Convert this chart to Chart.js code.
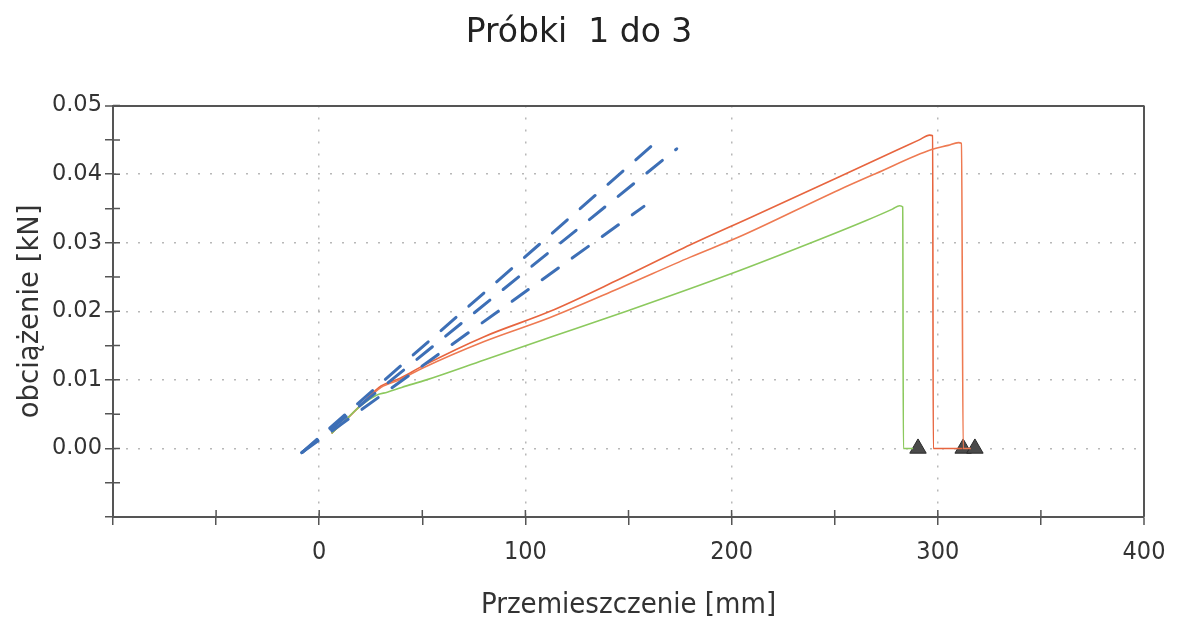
<!DOCTYPE html>
<html>
<head>
<meta charset="utf-8">
<script src="https://cdn.jsdelivr.net/npm/chart.js@4"></script>
<style>
  html, body { margin: 0; padding: 0; background: #fff; }
  #wrap { width: 1179px; height: 620px; }
</style>
</head>
<body>
<div id="wrap"><canvas id="chart" width="1179" height="620"></canvas></div>
<script>
'use strict';

// Displacement [mm] / load [kN]
var disp1 = [6, 12, 20, 30, 39, 50, 80, 112, 145, 180, 210, 252, 280, 291, 296, 297.5, 297.8, 312];
var load1 = [0.0022, 0.0039, 0.0063, 0.0091, 0.0102, 0.0120, 0.0163, 0.0200, 0.0246, 0.0297, 0.0338, 0.0396, 0.0435, 0.0450, 0.0457, 0.0456, 0, 0];

var disp2 = [6, 12, 20, 30, 39, 50, 80, 112, 145, 180, 204, 252, 270, 297, 305, 310, 311.5, 312.3, 316];
var load2 = [0.0022, 0.0039, 0.0062, 0.0089, 0.0100, 0.0117, 0.0156, 0.0191, 0.0233, 0.0279, 0.0309, 0.0377, 0.0401, 0.0436, 0.0442, 0.0446, 0.0445, 0, 0];

var disp3 = [6, 12, 20, 28, 33, 40, 52, 80, 112, 149, 200, 239.5, 265, 278, 281.5, 283, 283.3, 288];
var load3 = [0.0022, 0.0039, 0.0062, 0.0078, 0.0082, 0.0089, 0.0100, 0.0129, 0.0162, 0.0200, 0.0255, 0.0301, 0.0332, 0.0349, 0.0354, 0.0352, 0, 0];

// fitted (modulus) lines, dashed blue
var fitDispA = [-8.4, 166.1], fitLoadA = [-0.0006, 0.0454];
var fitDispB = [-8.4, 173.4], fitLoadB = [-0.0006, 0.0437];
var fitDispC = [-8.4, 157.5], fitLoadC = [-0.0006, 0.0353];

// break markers
var breakDisp = [290.4, 312.3, 318];
var breakLoad = [0, 0, 0];

var titleText = 'Próbki  1 do 3';
var xTitle = 'Przemieszczenie [mm]';
var yTitle = 'obciążenie [kN]';

function pts(xs, ys) {
  return xs.map(function(x, i) { return { x: x, y: ys[i] }; });
}

var narrow = '"DejaVu Sans Condensed", "Liberation Sans Narrow", "DejaVu Sans", sans-serif';
var wide = '"DejaVu Sans", Verdana, sans-serif';

// short tick marks pointing into the plot
var innerTicks = {
  id: 'innerTicks',
  afterDraw: function(chart) {
    var ctx = chart.ctx, a = chart.chartArea;
    var xs = chart.scales.x, ys = chart.scales.y;
    ctx.save();
    ctx.strokeStyle = '#555';
    ctx.lineWidth = 1.5;
    ctx.beginPath();
    xs.ticks.forEach(function(t) {
      var px = xs.getPixelForValue(t.value);
      ctx.moveTo(px, a.bottom);
      ctx.lineTo(px, a.bottom - 7);
    });
    ys.ticks.forEach(function(t) {
      var py = ys.getPixelForValue(t.value);
      ctx.moveTo(a.left, py);
      ctx.lineTo(a.left + 7, py);
    });
    ctx.stroke();
    ctx.restore();
  }
};

function isLabelX(v) { return v >= 0 && v % 100 === 0; }
function isLabelY(v) { return v > -1e-9 && Math.abs(Math.round(v * 100) - v * 100) < 1e-6; }

var fitStyle = {
  borderColor: '#3d6fb6',
  borderWidth: 3,
  borderDash: [20, 17],
  borderCapStyle: 'round',
  pointRadius: 0,
  showLine: true,
  fill: false
};

var curveStyle = {
  borderWidth: 1.6,
  pointRadius: 0,
  showLine: true,
  cubicInterpolationMode: 'monotone'
};

var config = {
  type: 'scatter',
  data: {
    datasets: [
      Object.assign({ label: 'fit A', data: pts(fitDispA, fitLoadA) }, fitStyle),
      Object.assign({ label: 'fit B', data: pts(fitDispB, fitLoadB) }, fitStyle),
      Object.assign({ label: 'fit C', data: pts(fitDispC, fitLoadC) }, fitStyle),
      Object.assign({ label: 'Próbka 3', data: pts(disp3, load3), borderColor: '#8cc95e' }, curveStyle),
      Object.assign({ label: 'Próbka 2', data: pts(disp2, load2), borderColor: '#ee7a52' }, curveStyle),
      Object.assign({ label: 'Próbka 1', data: pts(disp1, load1), borderColor: '#e7653f' }, curveStyle),
      {
        label: 'zerwanie',
        data: pts(breakDisp, breakLoad),
        pointStyle: 'triangle',
        pointRadius: 9.5,
        backgroundColor: '#4a4a4a',
        borderColor: '#2a2a2a',
        borderWidth: 1,
        showLine: false
      }
    ]
  },
  options: {
    responsive: false,
    animation: false,
    layout: { padding: { left: 14, right: 35, top: 0, bottom: 0 } },
    plugins: {
      legend: { display: false },
      tooltip: { enabled: false },
      title: {
        display: true,
        text: titleText,
        color: '#222',
        font: { family: wide, size: 33, weight: 'normal' },
        padding: { top: 14, bottom: 52 }
      }
    },
    scales: {
      x: {
        type: 'linear',
        min: -100,
        max: 400,
        afterFit: function(s) { s.height = 103; },
        ticks: {
          stepSize: 50,
          autoSkip: false,
          maxRotation: 0,
          padding: 12,
          color: '#333',
          font: { family: narrow, size: 25 },
          callback: function(v) { return isLabelX(v) ? String(v) : ''; }
        },
        grid: {
          drawTicks: true,
          tickLength: 8,
          tickColor: '#555',
          tickWidth: 1.5,
          color: function(c) {
            if (!c.tick) return 'transparent';
            var v = c.tick.value;
            if (v === 400) return '#555';
            return isLabelX(v) ? '#b8b8b8' : 'transparent';
          },
          lineWidth: function(c) {
            return c.tick && c.tick.value === 400 ? 2 : 1.5;
          }
        },
        border: {
          display: true,
          color: '#555',
          width: 2,
          dash: function(c) {
            return c.tick && c.tick.value === 400 ? [] : [2, 10];
          }
        },
        title: {
          display: true,
          text: xTitle,
          color: '#333',
          font: { family: narrow, size: 29, lineHeight: 1.0 },
          padding: { top: 0, bottom: 0 }
        }
      },
      y: {
        type: 'linear',
        min: -0.01,
        max: 0.05,
        afterFit: function(s) { s.width = 99; },
        ticks: {
          stepSize: 0.005,
          autoSkip: false,
          padding: 3,
          color: '#333',
          font: { family: wide, size: 22.5 },
          callback: function(v) {
            if (Math.abs(v) < 1e-9) return '0.00';
            return isLabelY(v) ? v.toFixed(2) : '';
          }
        },
        grid: {
          drawTicks: true,
          tickLength: 8,
          tickColor: '#555',
          tickWidth: 1.5,
          color: function(c) {
            if (!c.tick) return 'transparent';
            var v = c.tick.value;
            if (Math.abs(v - 0.05) < 1e-9) return '#555';
            return isLabelY(v) ? '#b8b8b8' : 'transparent';
          },
          lineWidth: function(c) {
            return c.tick && Math.abs(c.tick.value - 0.05) < 1e-9 ? 2 : 1.5;
          }
        },
        border: {
          display: true,
          color: '#555',
          width: 2,
          dash: function(c) {
            return c.tick && Math.abs(c.tick.value - 0.05) < 1e-9 ? [] : [2, 10];
          }
        },
        title: {
          display: true,
          text: yTitle,
          color: '#333',
          font: { family: wide, size: 27.5 },
          padding: { top: 0, bottom: 0 }
        }
      }
    }
  },
  plugins: [innerTicks]
};

window.chart = new Chart(document.getElementById('chart'), config);
</script>
</body>
</html>
